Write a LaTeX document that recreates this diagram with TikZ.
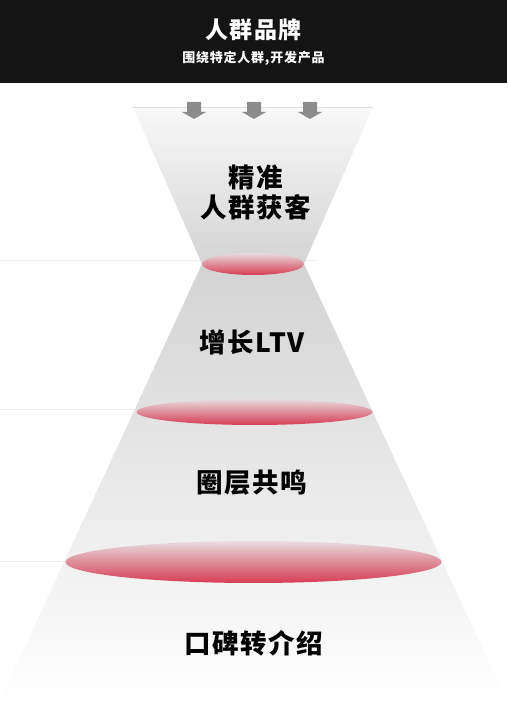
\documentclass[tikz,border=0pt]{standalone}
\usepackage{fontspec}
\newfontfamily\cjk{Noto Sans CJK SC}
\newfontfamily\cjksp{Noto Sans CJK SC}[LetterSpace=6]
\definecolor{hdr}{HTML}{141414}
\definecolor{arrowgray}{HTML}{8C8C8C}
\definecolor{ringtop}{HTML}{E8DCDE}
\definecolor{ringbot}{HTML}{D63C56}
\definecolor{guide}{HTML}{EEEEEE}
\begin{document}
\begin{tikzpicture}[x=1pt,y=1pt,
  ring/.style={top color=ringtop,bottom color=ringbot},
  guideline/.style={draw=guide,line width=1pt},
  stagetext/.style={font=\cjksp\bfseries\fontsize{26.5}{30}\selectfont,text=black,align=center},
  downarrow/.style={fill=arrowgray,draw=none}]
\useasboundingbox (0,0) rectangle (507,708);
% header
\fill[hdr] (0,625) rectangle (507,708);
\node[font=\cjksp\bfseries\fontsize{23}{27}\selectfont,text=white] (title) at (253.5,678) {人群品牌};
\node[font=\cjksp\bfseries\fontsize{13}{15}\selectfont,text=white] (subtitle) at (253.5,650) {围绕特定人群,开发产品};
% guide lines
\draw[guideline] (0,447) -- (317,447);
\draw[guideline] (0,298) -- (137,298);
\draw[guideline] (0,146) -- (66,146);
% top cone
\shade[top color={rgb,255:red,248;green,248;blue,248},bottom color={rgb,255:red,212;green,212;blue,212}]
  (133,601) -- (373,601) -- (304,444) -- (202,444) -- cycle;
\draw[draw={rgb,255:red,221;green,221;blue,221},line width=0.8pt] (132,601) -- (373,601);
% lower cone
\shade[top color={rgb,255:red,211;green,211;blue,211},bottom color=white]
  (202,444) -- (304,444) -- (509,3) -- (-2,3) -- cycle;
% rings
\shade[ring] (253,444) ellipse (51 and 11);
\shade[ring] (254.5,296) ellipse (118 and 13);
\shade[ring] (253.5,146) ellipse (188 and 21);
% arrows
\foreach \ax/\nm in {194/a1,254/a2,310/a3}{
  \fill[downarrow] (\ax-7,606) -- (\ax+7,606) -- (\ax+7,596) -- (\ax+12,596) -- (\ax,589) -- (\ax-12,596) -- (\ax-7,596) -- cycle;
}
% stage texts
\node[stagetext] (s1) at (256,516) {精准\\人群获客};
\node[stagetext] (s2) at (252,366) {增长LTV};
\node[stagetext] (s3) at (252,225) {圈层共鸣};
\node[stagetext] (s4) at (254,65) {口碑转介绍};
\end{tikzpicture}
\end{document}
